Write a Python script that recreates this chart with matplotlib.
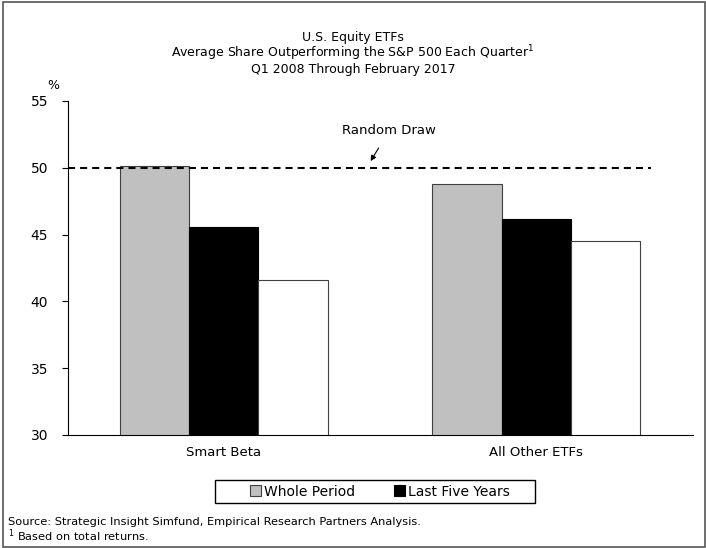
import matplotlib
matplotlib.use("Agg")
import matplotlib.pyplot as plt
import numpy as np
from matplotlib.patches import Rectangle

categories = ["Smart Beta", "All Other ETFs"]
whole_period = [50.15, 48.8]
last_five = [45.6, 46.2]
third_series = [41.6, 44.5]
random_draw = 50.0
y_ticks = [30, 35, 40, 45, 50, 55]

plt.rcParams["font.family"] = "DejaVu Sans"

W, H = 706, 548
fig = plt.figure(figsize=(W / 100, H / 100), dpi=100)
ax = fig.add_axes([67.5 / W, 1 - 435 / H, 625 / W, 334 / H])

x = np.arange(len(categories))
w = 0.222
ax.bar(x - w, whole_period, w, color="#c0c0c0", edgecolor="#404040",
       linewidth=0.8, label="Whole Period")
ax.bar(x, last_five, w, color="black", edgecolor="black", linewidth=0.8,
       label="Last Five Years")
ax.bar(x + w, third_series, w, color="white", edgecolor="#404040", linewidth=0.8)

ax.plot([-0.5, 1.367], [random_draw, random_draw], color="black",
        linestyle=(0, (3.4, 2.4)), linewidth=1.5, zorder=3)
ax.annotate("Random Draw", xy=(0.47, 50.5), xytext=(0.53, 52.8),
            ha="center", va="center", fontsize=9.5,
            arrowprops=dict(arrowstyle="-|>", color="black", lw=0.8,
                            mutation_scale=8, shrinkA=7, shrinkB=0))

ax.set_xlim(-0.5, 1.5)
ax.set_ylim(30, 55)
ax.set_yticks(y_ticks)
ax.set_xticks(x)
ax.set_xticklabels(categories, fontsize=9.5)
ax.tick_params(axis="x", length=0, pad=8)
ax.tick_params(axis="y", direction="out", length=4, labelsize=10, pad=10)
ax.spines["top"].set_visible(False)
ax.spines["right"].set_visible(False)
ax.text(-0.023, 1.045, "%", transform=ax.transAxes, fontsize=9, ha="center", va="center")

fig.text(0.5, 1 - 37 / H, "U.S. Equity ETFs", ha="center", va="center", fontsize=9)
fig.text(0.5, 1 - 53 / H, "Average Share Outperforming the S&P 500 Each Quarter$^1$",
         ha="center", va="center", fontsize=9)
fig.text(0.5, 1 - 69 / H, "Q1 2008 Through February 2017", ha="center", va="center", fontsize=9)

# legend box drawn by hand so it can be wider than the entries
ax.legend(loc="center", bbox_to_anchor=(380 / W, 1 - 491.5 / H),
          bbox_transform=fig.transFigure, ncol=2, frameon=False,
          fontsize=10, handlelength=0.8, handleheight=0.8,
          handletextpad=0.2, columnspacing=2.8)
fig.patches.append(Rectangle((215 / W, 1 - 503 / H), 320 / W, 23 / H,
                             transform=fig.transFigure, fill=False,
                             edgecolor="black", linewidth=1.0))

fig.text(8 / W, 1 - 522 / H,
         "Source: Strategic Insight Simfund, Empirical Research Partners Analysis.",
         fontsize=8.2, va="center")
fig.text(8 / W, 1 - 536 / H, "$^1$ Based on total returns.", fontsize=8.2, va="center")

fig.patches.append(Rectangle((0.004, 0.002), 0.994, 0.994, transform=fig.transFigure,
                             fill=False, edgecolor="#555555", linewidth=1.2))

fig.savefig("out.png", dpi=100)
